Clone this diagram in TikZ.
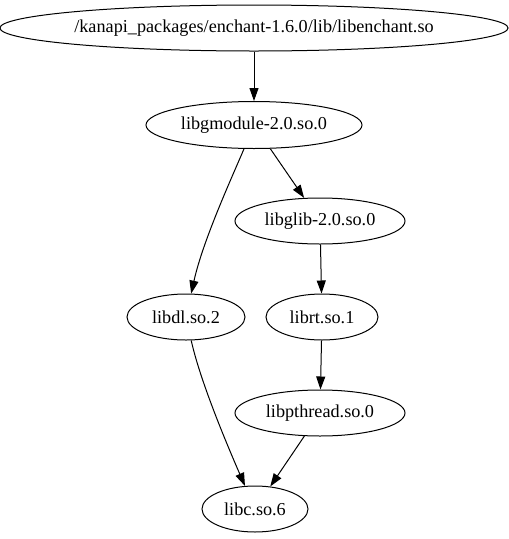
\documentclass[tikz,border=0pt]{standalone}
\usepackage{fontspec}
\setmainfont{Liberation Serif}
\usetikzlibrary{shapes.geometric,arrows.meta}
\begin{document}
\begin{tikzpicture}[x=1pt,y=-1pt,
  lib/.style={draw,ellipse,line width=1pt,inner sep=0pt,font=\fontsize{18.2}{20}\selectfont},
  dep/.style={line width=1pt,-{Triangle[length=13pt,width=9pt]}}]
\useasboundingbox (0,0) rectangle (509,539);
\node[lib,minimum width=500pt,minimum height=46pt] (top) at (254,28) {/kanapi\_packages/enchant-1.6.0/lib/libenchant.so};
\node[lib,minimum width=216pt,minimum height=47pt] (gm) at (254,125) {libgmodule-2.0.so.0};
\node[lib,minimum width=170pt,minimum height=46pt] (glib) at (320,221) {libglib-2.0.so.0};
\node[lib,minimum width=118pt,minimum height=46pt] (dl) at (186,317) {libdl.so.2};
\node[lib,minimum width=112pt,minimum height=46pt] (rt) at (322,317) {librt.so.1};
\node[lib,minimum width=170pt,minimum height=46pt] (pt) at (320,413) {libpthread.so.0};
\node[lib,minimum width=106pt,minimum height=46pt] (libc) at (255,509) {libc.so.6};
\draw[dep] (top) -- (gm);
\draw[dep] (gm) -- (glib);
\draw[dep] (gm) .. controls (233,175) and (203,240) .. (dl);
\draw[dep] (glib) -- (rt);
\draw[dep] (rt) -- (pt);
\draw[dep] (dl) .. controls (200,380) and (225,440) .. (libc);
\draw[dep] (pt) -- (libc);
\end{tikzpicture}
\end{document}
